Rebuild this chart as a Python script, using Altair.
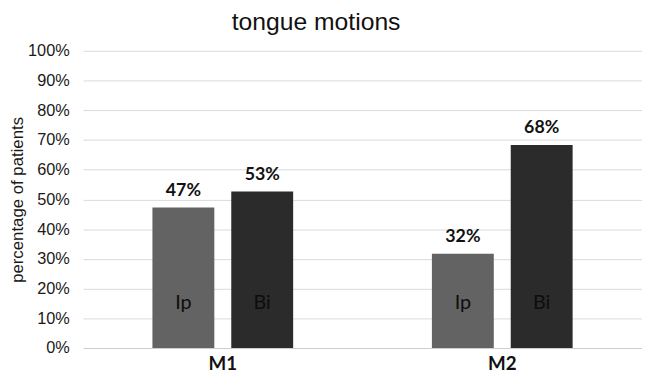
import altair as alt
import pandas as pd

groups = ["M1", "M1", "M2", "M2"]
types = ["Ip", "Bi", "Ip", "Bi"]
values = [47.3, 52.7, 31.7, 68.3]
labels = ["47%", "53%", "32%", "68%"]
type_order = ["Ip", "Bi"]
colors = ["#636363", "#2b2b2b"]
y_ticks = [0, 10, 20, 30, 40, 50, 60, 70, 80, 90, 100]

df = pd.DataFrame({"group": groups, "type": types, "value": values, "label": labels, "inner": [15.0] * 4})

x_enc = alt.X("group:N", title=None, sort=["M1", "M2"],
              scale=alt.Scale(paddingInner=0, paddingOuter=0),
              axis=alt.Axis(labelAngle=0, labelFont="Lato", labelFontSize=19, labelFontWeight="bold",
                            labelColor="#111111", ticks=False, domain=True, domainColor="#cfcfcf",
                            grid=False, labelPadding=7))
xo_enc = alt.XOffset("type:N", sort=type_order,
                     scale=alt.Scale(domain=type_order, paddingInner=0.215, paddingOuter=0.88))

y_axis = alt.Axis(values=y_ticks, labelExpr="datum.value + '%'", domain=False, ticks=False,
                  labelOverlap=False,
                  gridColor="#d9d9d9", gridWidth=1, labelFont="Liberation Sans",
                  labelFontSize=16.5, labelColor="#1a1a1a", labelPadding=14,
                  title="percentage of patients",
                  titleFont="Liberation Sans", titleFontSize=17, titleFontWeight="normal",
                  titleColor="#1a1a1a", titlePadding=1)
y_scale = alt.Scale(domain=[0, 100], nice=False)

base = alt.Chart(df).encode(x=x_enc, xOffset=xo_enc)

bars = base.mark_bar().encode(
    y=alt.Y("value:Q", scale=y_scale, axis=y_axis),
    color=alt.Color("type:N", sort=type_order, scale=alt.Scale(domain=type_order, range=colors), legend=None),
)

top_labels = base.mark_text(font="Lato", fontSize=18, fontWeight="bold", color="#111111",
                            baseline="alphabetic", dy=-12).encode(
    y=alt.Y("value:Q", scale=y_scale, axis=y_axis), text="label:N")

inner_labels = base.mark_text(font="Lato", fontSize=20, color="#0d0d0d", baseline="middle").encode(
    y=alt.Y("inner:Q", scale=y_scale, axis=y_axis), text="type:N")

chart = alt.layer(bars, top_labels, inner_labels).properties(
    width=566, height=301,
    background="white",
    title=alt.TitleParams("tongue motions", font="Liberation Sans", fontSize=25, fontWeight="normal",
                          color="#111111", anchor="middle", dx=-47, offset=8),
    padding={"left": 76, "top": 41, "right": 0, "bottom": 27},
    autosize=alt.AutoSizeParams(type="none"),
).configure_view(stroke=None)

chart.save("out.html", embed_options={"renderer": "svg", "actions": False})
